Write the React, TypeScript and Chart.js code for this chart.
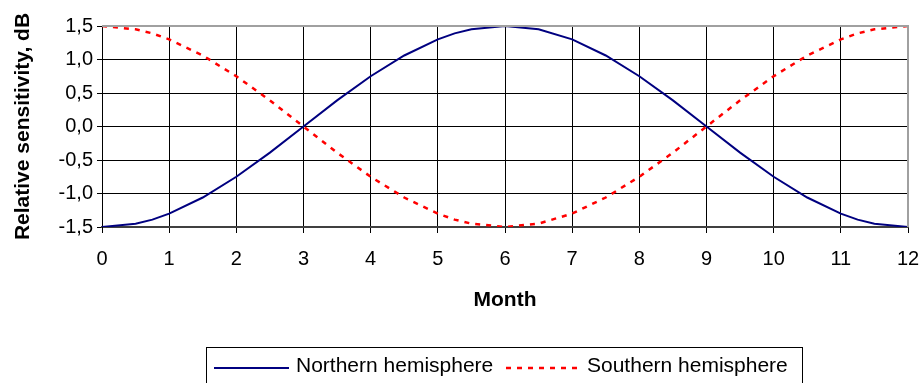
import React, { useEffect, useRef } from "react";
import { Chart, registerables } from "chart.js";

Chart.register(...registerables);

// Month positions of the plotted points
const months = [0, 0.5, 0.75, 1, 1.5, 2, 2.5, 3, 3.5, 4, 4.5, 5, 5.25, 5.5, 6, 6.5, 7, 7.5, 8, 8.5, 9, 9.5, 10, 10.5, 11, 11.25, 11.5, 12];

// Relative sensitivity, dB
const northern = [-1.5, -1.45, -1.39, -1.3, -1.06, -0.75, -0.39, 0, 0.39, 0.75, 1.06, 1.3, 1.39, 1.45, 1.5, 1.45, 1.3, 1.06, 0.75, 0.39, 0, -0.39, -0.75, -1.06, -1.3, -1.39, -1.45, -1.5];
const southern = [1.5, 1.45, 1.39, 1.3, 1.06, 0.75, 0.39, 0, -0.39, -0.75, -1.06, -1.3, -1.39, -1.45, -1.5, -1.45, -1.3, -1.06, -0.75, -0.39, 0, 0.39, 0.75, 1.06, 1.3, 1.39, 1.45, 1.5];

const seriesNames = ["Northern hemisphere", "Southern hemisphere"];
const xTitle = "Month";
const yTitle = "Relative sensitivity, dB";

const FONT = "'Liberation Sans', Arial, sans-serif";
const NAVY = "#000080";
const RED = "#ff0000";
const RED_DASH = [5, 6];

const fmt = (v: number) => v.toFixed(1).replace(".", ",");

// Gray frame on top/right of the plot area plus the boxed legend below the axis
const framePlugin = {
  id: "frameAndLegend",
  afterDraw(chart: any) {
    const { ctx, chartArea } = chart;
    ctx.save();
    ctx.strokeStyle = "#a0a0a0";
    ctx.lineWidth = 2;
    ctx.beginPath();
    ctx.moveTo(chartArea.left, chartArea.top);
    ctx.lineTo(chartArea.right, chartArea.top);
    ctx.lineTo(chartArea.right, chartArea.bottom);
    ctx.stroke();

    // legend box
    const bx = 206.5, by = 347.5, bw = 596, bh = 60;
    ctx.lineWidth = 1;
    ctx.strokeStyle = "#000";
    ctx.strokeRect(bx, by, bw, bh);

    const ly = 368;
    ctx.lineWidth = 2;
    ctx.strokeStyle = NAVY;
    ctx.beginPath();
    ctx.moveTo(214, ly);
    ctx.lineTo(289, ly);
    ctx.stroke();

    ctx.strokeStyle = RED;
    ctx.lineWidth = 2.5;
    ctx.setLineDash(RED_DASH);
    ctx.beginPath();
    ctx.moveTo(506, ly);
    ctx.lineTo(580, ly);
    ctx.stroke();
    ctx.setLineDash([]);

    ctx.fillStyle = "#000";
    ctx.font = `21px ${FONT}`;
    ctx.textBaseline = "middle";
    ctx.textAlign = "left";
    ctx.fillText(seriesNames[0], 296, 366);
    ctx.fillText(seriesNames[1], 587, 366);
    ctx.restore();
  },
};

export default function App() {
  const canvasRef = useRef<HTMLCanvasElement | null>(null);

  useEffect(() => {
    const canvas = canvasRef.current;
    if (!canvas) return;
    const toPoints = (ys: number[]) => months.map((m, i) => ({ x: m, y: ys[i] }));

    const chart = new Chart(canvas, {
      type: "line",
      data: {
        datasets: [
          {
            label: seriesNames[1],
            data: toPoints(southern),
            borderColor: RED,
            borderWidth: 2.5,
            borderDash: RED_DASH,
            pointRadius: 0,
            tension: 0,
          },
          {
            label: seriesNames[0],
            data: toPoints(northern),
            borderColor: NAVY,
            borderWidth: 2,
            pointRadius: 0,
            tension: 0,
          },
        ],
      },
      options: {
        responsive: false,
        animation: false,
        events: [],
        layout: { padding: { top: 26, right: 13, left: 0, bottom: 0 } },
        plugins: {
          legend: { display: false },
          tooltip: { enabled: false },
          title: { display: false },
        },
        scales: {
          x: {
            type: "linear",
            min: 0,
            max: 12,
            ticks: {
              stepSize: 1,
              color: "#000",
              font: { family: FONT, size: 20 },
              padding: 14,
              maxRotation: 0,
            },
            grid: { color: "#000", lineWidth: 1, tickLength: 6, drawTicks: true },
            border: { color: "#404040", width: 2 },
            title: {
              display: true,
              text: xTitle,
              color: "#000",
              font: { family: FONT, size: 21, weight: "bold" },
              padding: { top: 0, bottom: 70 },
            },
            afterFit: (scale: any) => {
              scale.height = 156;
              scale.paddingLeft = 0;
              scale.paddingRight = 0;
            },
          },
          y: {
            type: "linear",
            min: -1.5,
            max: 1.5,
            ticks: {
              stepSize: 0.5,
              color: "#000",
              font: { family: FONT, size: 20 },
              padding: 4,
              callback: (v: any) => fmt(Number(v)),
            },
            grid: { color: "#000", lineWidth: 1, tickLength: 5, drawTicks: true },
            border: { color: "#000", width: 1 },
            title: {
              display: true,
              text: yTitle,
              color: "#000",
              font: { family: FONT, size: 21, weight: "bold" },
              padding: { top: 11, bottom: 0 },
            },
            afterFit: (scale: any) => {
              scale.width = 102;
              scale.paddingTop = 0;
              scale.paddingBottom = 0;
            },
          },
        },
      },
      plugins: [framePlugin],
    });
    return () => chart.destroy();
  }, []);

  return (
    <div style={{ position: "fixed", left: 0, top: 0, width: 921, height: 383, background: "#fff" }}>
      <canvas ref={canvasRef} width={921} height={383} style={{ display: "block" }} />
    </div>
  );
}
